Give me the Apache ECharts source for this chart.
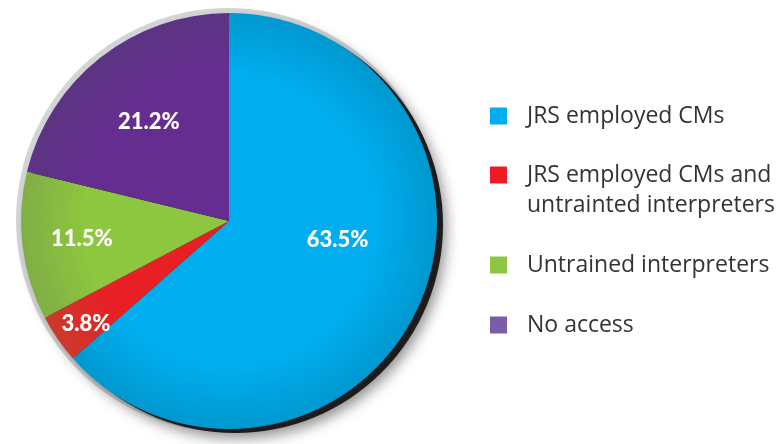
<!DOCTYPE html>
<html>
<head>
<meta charset="utf-8">
<script src="https://cdn.jsdelivr.net/npm/echarts@6/dist/echarts.min.js"></script>
<style>
html,body{margin:0;padding:0;background:#fff;}
#chart{width:779px;height:444px;}
</style>
</head>
<body>
<div id="chart"></div>
<script>
// ---- data ----
const categories = [
  'JRS employed CMs',
  'JRS employed CMs and\nuntrainted interpreters',
  'Untrained interpreters',
  'No access'
];
const values = [63.5, 3.8, 11.5, 21.2];
const sliceColors = ['#00AEEF', '#E91F26', '#8DC63F', '#662D91'];
const edgeColors  = ['#0098CF', '#CC3A2B', '#80AE45', '#5C3482'];
const legendColors = ['#00AEEF', '#ED1C24', '#8DC63F', '#7B5CA8'];

// ---- layout / style ----
const C = [229, 221];
const R = 208;
const labelShift = [[11, -25], [-55, 42], [-41, 5], [-14, -15]];

function grad(i) {
  return {
    type: 'radial', x: C[0], y: C[1], r: R, global: true,
    colorStops: [
      { offset: 0, color: sliceColors[i] },
      { offset: 0.7, color: sliceColors[i] },
      { offset: 1, color: edgeColors[i] }
    ]
  };
}

const pieData = categories.map((name, i) => ({
  name: name,
  value: values[i],
  itemStyle: { color: grad(i) }
}));

const legendText = {
  fontFamily: 'Open Sans',
  fontSize: 23,
  color: '#333',
  lineHeight: 30,
  padding: [0, 0, 0, 15]
};

const chart = echarts.init(document.getElementById('chart'), null, { renderer: 'canvas' });
chart.setOption({
  animation: false,
  backgroundColor: '#fff',
  legend: [
    {
      orient: 'vertical', left: 490, top: 101, padding: 0,
      itemWidth: 17, itemHeight: 17, itemGap: -1, icon: 'rect',
      selectedMode: false,
      textStyle: legendText,
      formatter: function (name) {
        return name.indexOf('\n') >= 0 ? '\n' + name : name;
      },
      data: [
        { name: categories[0], itemStyle: { color: legendColors[0] } },
        { name: categories[1], itemStyle: { color: legendColors[1] } }
      ]
    },
    {
      orient: 'vertical', left: 490, top: 250, padding: 0,
      itemWidth: 17, itemHeight: 17, itemGap: 30, icon: 'rect',
      selectedMode: false,
      textStyle: legendText,
      data: [
        { name: categories[2], itemStyle: { color: legendColors[2] } },
        { name: categories[3], itemStyle: { color: legendColors[3] } }
      ]
    }
  ],
  series: [
    {
      type: 'pie', silent: true, center: [C[0] - 1, C[1] - 1], radius: [0, 212],
      label: { show: false }, labelLine: { show: false },
      itemStyle: { color: '#D3D5D7' },
      data: [{ name: '_ring', value: 1 }]
    },
    {
      type: 'pie', silent: true, center: [C[0] + 6, C[1] + 4], radius: [0, R],
      label: { show: false }, labelLine: { show: false },
      itemStyle: {
        color: '#1C1A1B',
        shadowBlur: 14, shadowColor: 'rgba(0,0,0,0.45)',
        shadowOffsetX: 3, shadowOffsetY: 5
      },
      data: [{ name: '_edge', value: 1 }]
    },
    {
      type: 'pie',
      center: C,
      radius: [0, R],
      startAngle: 90,
      clockwise: true,
      label: {
        show: true,
        position: 'inside',
        formatter: '{c}%',
        color: '#fff',
        fontFamily: 'Lato',
        fontWeight: 900,
        fontSize: 22
      },
      labelLine: { show: false },
      labelLayout: function (p) {
        const s = labelShift[p.dataIndex];
        return { dx: s[0], dy: s[1] };
      },
      emphasis: { disabled: true },
      data: pieData
    }
  ]
});
</script>
</body>
</html>
